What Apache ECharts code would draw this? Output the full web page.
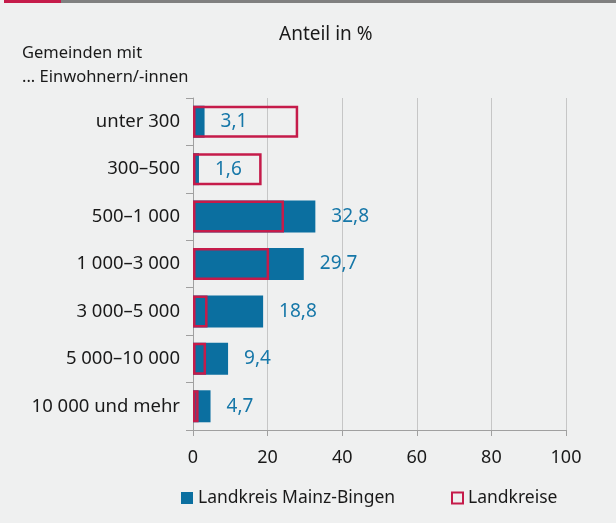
<!DOCTYPE html>
<html>
<head>
<meta charset="utf-8">
<script src="https://cdn.jsdelivr.net/npm/echarts@6/dist/echarts.min.js"></script>
<style>
  html, body { margin: 0; padding: 0; background: #eff0f0; }
  #chart { width: 616px; height: 523px; }
</style>
</head>
<body>
<div id="chart"></div>
<script>
const categories = ["unter 300", "300–500", "500–1 000", "1 000–3 000", "3 000–5 000", "5 000–10 000", "10 000 und mehr"];
const mainzBingen = [3.1, 1.6, 32.8, 29.7, 18.8, 9.4, 4.7];
const landkreise = [28.2, 18.4, 24.4, 20.4, 3.9, 3.5, 1.5];
const xTicks = [0, 20, 40, 60, 80, 100];

const blue = "#0b6fa0";
const red = "#c51b4a";
const font = "Noto Sans";

const chart = echarts.init(document.getElementById("chart"));

chart.setOption({
  backgroundColor: "#eff0f0",
  textStyle: { fontFamily: font },
  graphic: [
    { type: "rect", left: 4, top: 0, shape: { width: 57, height: 3 }, style: { fill: red } },
    { type: "rect", left: 61, top: 0, shape: { width: 555, height: 3 }, style: { fill: "#808080" } },
    { type: "text", left: 22, top: 45, style: { text: "Gemeinden mit", font: `16.5px "${font}"`, fill: "#1a1a1a" } },
    { type: "text", left: 22, top: 69, style: { text: "... Einwohnern/-innen", font: `16.5px "${font}"`, fill: "#1a1a1a" } },
  ],
  title: {
    text: "Anteil in %", left: 274, top: 20,
    textStyle: { fontFamily: font, fontSize: 19, fontWeight: "normal", color: "#1a1a1a" },
  },
  legend: [
    {
      data: ["Landkreis Mainz-Bingen"], left: 181, top: 489, padding: 0,
      itemWidth: 12, itemHeight: 12, icon: "rect",
      textStyle: { fontFamily: font, fontSize: 17.5, color: "#1a1a1a" },
    },
    {
      data: ["Landkreise"], left: 451, top: 489, padding: 0,
      itemWidth: 11, itemHeight: 11, icon: "rect",
      itemStyle: { color: "transparent", borderColor: red, borderWidth: 2 },
      textStyle: { fontFamily: font, fontSize: 17.5, color: "#1a1a1a" },
    },
  ],
  grid: { left: 193, right: 50, top: 98, bottom: 93, containLabel: false },
  xAxis: {
    type: "value", min: 0, max: 100, interval: 20,
    axisLine: { show: true, lineStyle: { color: "#a0a0a0" } },
    axisTick: { show: true, length: 6, lineStyle: { color: "#a0a0a0" } },
    splitLine: { show: true, lineStyle: { color: "#c6c6c6" } },
    axisLabel: {
      margin: 19, fontFamily: font, fontSize: 18, color: "#1a1a1a",
      formatter: (v) => (xTicks.includes(v) ? String(v) : ""),
    },
  },
  yAxis: {
    type: "category", data: categories, inverse: true,
    axisLine: { show: true, lineStyle: { color: "#a0a0a0" } },
    axisTick: { show: true, length: 7, lineStyle: { color: "#a0a0a0" } },
    axisLabel: { margin: 13, fontFamily: font, fontSize: 18.5, color: "#1a1a1a" },
  },
  series: [
    {
      name: "Landkreis Mainz-Bingen", type: "bar", data: mainzBingen,
      barWidth: 32, barGap: "-100%",
      itemStyle: { color: blue },
      label: {
        show: true, position: "right", distance: 16,
        fontFamily: font, fontSize: 19, color: "#1677a8",
        formatter: (p) => String(p.value).replace(".", ","),
      },
      z: 2,
    },
    {
      name: "Landkreise", type: "bar", data: landkreise,
      barWidth: 32, barGap: "-100%",
      itemStyle: { color: "transparent", borderColor: red, borderWidth: 2.5 },
      silent: true,
      z: 3,
    },
  ],
});
</script>
</body>
</html>
